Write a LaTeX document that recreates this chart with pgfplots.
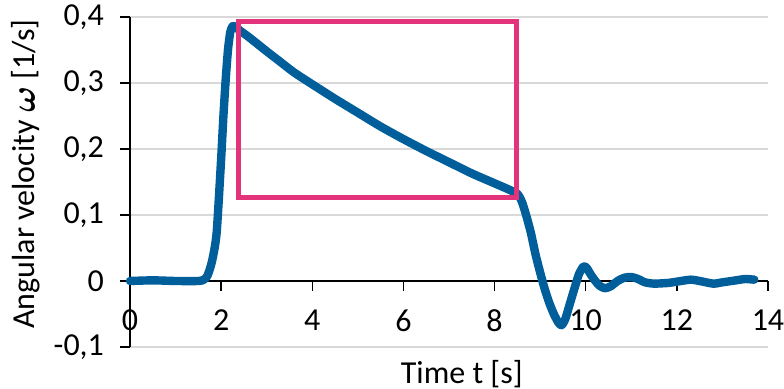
\documentclass[border=0pt]{standalone}
\usepackage{pgfplots}
\pgfplotsset{compat=1.18}
\usepackage{amsmath}
\usepackage{fontspec}
\setmainfont{Carlito}
\definecolor{curveblue}{RGB}{0,94,154}
\definecolor{boxpink}{RGB}{226,51,123}
\definecolor{gridgray}{RGB}{217,217,217}
\begin{document}
\begin{tikzpicture}
\begin{axis}[
  scale only axis,
  width=319pt, height=165pt,
  xmin=0, xmax=14, ymin=-0.1, ymax=0.4,
  axis x line=middle, axis y line=left,
  axis line style={black, line width=0.75pt, -},
  hide obscured x ticks=false, hide obscured y ticks=false,
  xtick={0,2,...,14},
  xticklabels={0,2,4,6,8,10,12,14},
  ytick={-0.1,0,0.1,0.2,0.3,0.4},
  yticklabels={{-0,1},{0},{0,1},{0,2},{0,3},{0,4}},
  tick align=outside,
  major tick length=5pt,
  tick style={black, line width=0.75pt},
  ymajorgrids,
  grid style={gridgray, line width=0.75pt},
  font=\fontsize{16}{19}\selectfont,
  yticklabel style={xshift=-4.5pt},
  xticklabel style={yshift=-6pt},
  xlabel={Time t [s]},
  ylabel={Angular velocity $\boldsymbol{\omega}$ [1/s]},
  xlabel style={at={(axis description cs:0.52,0)}, anchor=north, yshift=-3pt},
  ylabel style={at={(axis description cs:-0.163,0.524)}, anchor=center, rotate=0},
  clip=false,
]
\addplot[curveblue, line width=4.2pt, line cap=round, line join=round, smooth, tension=0.4] coordinates {
(0,0) (0.5,0.001) (1.0,0) (1.5,0.0) (1.62,0.002) (1.7,0.008) (1.8,0.03) (1.9,0.072)
(2.0,0.185) (2.05,0.25) (2.1,0.305) (2.15,0.35) (2.2,0.377) (2.25,0.386) (2.32,0.385)
(2.4,0.38) (2.6,0.37) (3.0,0.348) (3.3,0.332) (3.6,0.316) (4.0,0.298) (4.5,0.276)
(5.0,0.255) (5.5,0.234) (6.0,0.215) (6.5,0.197) (7.0,0.18) (7.5,0.163) (8.0,0.148)
(8.3,0.139) (8.5,0.132) (8.6,0.12) (8.7,0.098) (8.8,0.072) (8.9,0.04) (9.0,0.013)
(9.1,-0.012) (9.2,-0.033) (9.3,-0.05) (9.4,-0.063) (9.47,-0.067) (9.55,-0.058)
(9.65,-0.035) (9.75,-0.012) (9.85,0.01) (9.95,0.022) (10.02,0.02) (10.1,0.011)
(10.2,0.001) (10.3,-0.007) (10.42,-0.011) (10.55,-0.008) (10.7,0.0) (10.85,0.005)
(11.0,0.006) (11.15,0.003) (11.3,-0.002) (11.5,-0.004) (11.8,-0.003) (12.0,-0.001)
(12.3,0.002) (12.5,0.0) (12.8,-0.004) (13.0,-0.002) (13.3,0.001) (13.5,0.003) (13.7,0.002)
};
\addplot[boxpink, line width=2.5pt, line join=miter] coordinates {
(2.37,0.126) (2.37,0.393) (8.49,0.393) (8.49,0.126) (2.37,0.126)
} -- cycle;
\end{axis}
\pgfresetboundingbox
\path[use as bounding box] (-65pt,-21pt) rectangle (327pt,173.5pt);
\end{tikzpicture}
\end{document}
